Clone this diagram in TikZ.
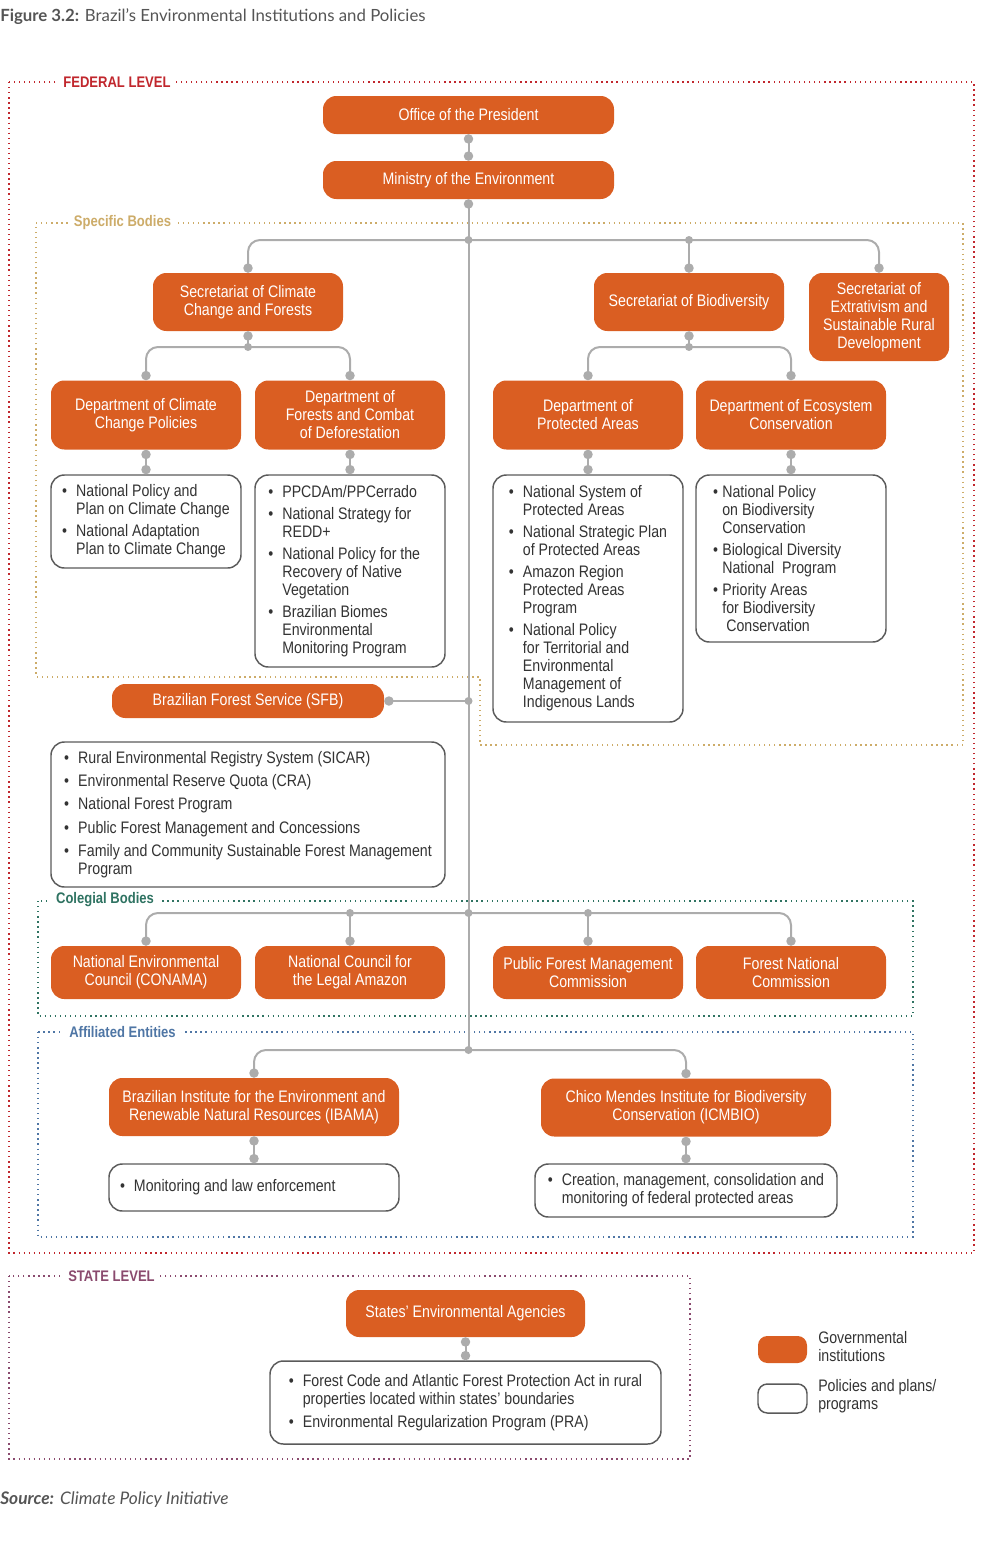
\documentclass[tikz,border=0pt]{standalone}
\usepackage{fontspec}
\setmainfont{Liberation Sans}[FakeStretch=0.85]
\newfontfamily\titlefont{Lato}
\usetikzlibrary{arrows.meta}

\definecolor{orng}{RGB}{218,94,34}
\definecolor{lk}{RGB}{172,172,172}
\definecolor{plgray}{RGB}{90,90,90}
\definecolor{txgray}{RGB}{51,51,51}
\definecolor{ttgray}{RGB}{85,85,85}
\definecolor{fedred}{RGB}{193,39,45}
\definecolor{spctan}{RGB}{205,172,105}
\definecolor{colteal}{RGB}{47,115,98}
\definecolor{affblue}{RGB}{79,118,165}
\definecolor{stpurp}{RGB}{138,74,110}

\newcommand{\bl}{\makebox[10.5pt][l]{\textbullet}}
\newcommand{\ind}{\hspace*{10.5pt}}
\newcommand{\blp}{\makebox[7pt][l]{\textbullet}}
\newcommand{\indp}{\hspace*{7pt}}
\newcommand{\nsp}{\spaceskip=0pt\xspaceskip=0pt\relax}

\tikzset{
  inst/.style={fill=orng, text=white, rounded corners=10pt, align=center, inner sep=2pt,
    font=\fontsize{12.5}{13.5}\selectfont},
  plan/.style={draw=plgray, line width=1.1pt, fill=white, rounded corners=10pt, align=left,
    text=txgray, inner sep=2pt, font=\fontsize{12.5}{13.5}\selectfont},
  link/.style={draw=lk, line width=1.5pt},
  jd/.tip={Circle[length=7pt]},
  frame/.style={line width=1pt, dash pattern=on 1pt off 2.8pt},
  lvl/.style={fill=white, inner xsep=4pt, inner ysep=1pt, font=\fontsize{11.5}{13}\selectfont\bfseries},
}

\begin{document}
\begin{tikzpicture}[x=0.75pt,y=0.75pt,yscale=-1,xscale=1]
\useasboundingbox (0,0) rectangle (990,1552);

% title
\node[anchor=west, inner sep=0pt, text=ttgray, font=\titlefont\fontsize{12.6}{15}\selectfont] (title) at (0,17)
  {\textbf{Figure 3.2:} Brazil’s Environmental Institutions and Policies};

% frames
\draw[frame, fedred] (9,82) rectangle (974,1253);
\draw[frame, spctan] (36,223) -- (963,223) -- (963,745) -- (480,745) -- (480,677) -- (36,677) -- cycle;
\draw[frame, colteal] (38,901) rectangle (913,1016);
\draw[frame, affblue] (38,1032) rectangle (913,1237);
\draw[frame, stpurp] (9,1276) rectangle (690,1459);

\node[lvl, text=fedred] (lfed) at (117,82) {FEDERAL LEVEL};
\node[lvl, text=spctan] (lspc) at (122.5,223) {Specific Bodies};
\node[lvl, text=colteal] (lcol) at (105,900) {Colegial Bodies};
\node[lvl, text=affblue] (laff) at (122.5,1032) {Affiliated Entities};
\node[lvl, text=stpurp] (lsta) at (111.5,1276) {STATE LEVEL};

% institutions
\node[inst, minimum width=218.25pt, minimum height=28.5pt] (pres) at (468.5,115) {Office of the President};
\node[inst, minimum width=218.25pt, minimum height=28.5pt] (mma) at (468.5,180) {Ministry of the Environment};

\node[inst, minimum width=142.5pt, minimum height=43.5pt] (scf) at (248,302) {Secretariat of Climate\\Change and Forests};
\node[inst, minimum width=142.5pt, minimum height=43.5pt] (sbd) at (689,302) {Secretariat of Biodiversity};
\node[inst, minimum width=105pt, minimum height=66pt] (sre) at (879,317) {Secretariat of\\Extrativism and\\Sustainable Rural\\Development};

\node[inst, minimum width=142.5pt, minimum height=51.75pt] (dcc) at (146,415) {Department of Climate\\Change Policies};
\node[inst, minimum width=142.5pt, minimum height=51.75pt] (dfc) at (350,415) {Department of\\Forests and Combat\\of Deforestation};
\node[inst, minimum width=142.5pt, minimum height=51.75pt] (dpa) at (588,415) {Department of\\Protected Areas};
\node[inst, minimum width=142.5pt, minimum height=51.75pt] (dec) at (791,415) {Department of Ecosystem\\Conservation};

% policies and plans
\node[plan, minimum width=142.5pt, minimum height=69.75pt] (pcc) at (146,521.5)
  {\bl National Policy and\\\ind Plan on Climate Change\\[3pt]
   \bl National Adaptation\\\ind Plan to Climate Change};
\node[plan, inner xsep=10pt, text width=122.5pt, minimum height=144pt] (pfc) at (350,571)
  {\nsp\bl PPCDAm/PPCerrado\\[3pt]
   \bl National Strategy for\\\ind REDD+\\[3pt]
   \bl National Policy for the\\\ind Recovery of Native\\\ind Vegetation\\[3pt]
   \bl Brazilian Biomes\\\ind Environmental\\\ind Monitoring Program};
\node[plan, minimum width=142.5pt, minimum height=185.25pt] (ppa) at (588,598.5)
  {\bl National System of\\\ind Protected Areas\\[3pt]
   \bl National Strategic Plan\\\ind of Protected Areas\\[3pt]
   \bl Amazon Region\\\ind Protected Areas\\\ind Program\\[3pt]
   \bl National Policy\\\ind for Territorial and\\\ind Environmental\\\ind Management of\\\ind Indigenous Lands};
\node[plan, inner xsep=12.75pt, text width=117pt, minimum height=125.25pt] (pec) at (791,558.5)
  {\nsp\blp National Policy\\\indp on Biodiversity\\\indp Conservation\\[3pt]
   \blp Biological Diversity\\\indp National~ Program\\[3pt]
   \blp Priority Areas\\\indp for Biodiversity\\\indp\hspace*{3pt}Conservation};

\node[inst, minimum width=204pt, minimum height=25.5pt] (sfb) at (248,701) {Brazilian Forest Service (SFB)};
\node[plan, minimum width=295.5pt, minimum height=108.75pt] (psfb) at (248,814.5)
  {\bl Rural Environmental Registry System (SICAR)\\[4pt]
   \bl Environmental Reserve Quota (CRA)\\[4pt]
   \bl National Forest Program\\[4pt]
   \bl Public Forest Management and Concessions\\[4pt]
   \bl Family and Community Sustainable Forest Management\\\ind Program};

% colegial bodies
\node[inst, minimum width=142.5pt, minimum height=39.75pt] (conama) at (146,972.5) {National Environmental\\Council (CONAMA)};
\node[inst, minimum width=142.5pt, minimum height=39.75pt] (cla) at (350,972.5) {National Council for\\the Legal Amazon};
\node[inst, minimum width=142.5pt, minimum height=39.75pt] (pfm) at (588,972.5) {Public Forest Management\\Commission};
\node[inst, minimum width=142.5pt, minimum height=39.75pt] (fnc) at (791,972.5) {Forest National\\Commission};

% affiliated entities
\node[inst, minimum width=217.5pt, minimum height=43.5pt] (ibama) at (254,1107) {Brazilian Institute for the Environment and\\Renewable Natural Resources (IBAMA)};
\node[inst, minimum width=217.5pt, minimum height=43.5pt] (icmbio) at (686,1107.5) {Chico Mendes Institute for Biodiversity\\Conservation (ICMBIO)};
\node[plan, inner xsep=8.25pt, text width=201pt, minimum height=35.25pt] (pibama) at (254,1187.5) {\nsp\bl Monitoring and law enforcement};
\node[plan, minimum width=226.5pt, minimum height=39.75pt] (picmbio) at (686,1190.5)
  {\bl Creation, management, consolidation and\\\ind monitoring of federal protected areas};

% state level
\node[inst, minimum width=179.25pt, minimum height=35.25pt] (sea) at (465.5,1313.5) {States’ Environmental Agencies};
\node[plan, minimum width=293.25pt, minimum height=62.25pt] (psea) at (465.5,1402.5)
  {\bl Forest Code and Atlantic Forest Protection Act in rural\\\ind properties located within states’ boundaries\\[4pt]
   \bl Environmental Regularization Program (PRA)};

% legend
\node[inst, minimum width=36.75pt, minimum height=20.25pt, rounded corners=7pt] (lgi) at (782.5,1349.5) {};
\node[plan, minimum width=36.75pt, minimum height=21.75pt, rounded corners=7pt] (lgp) at (782.5,1398.5) {};
\node[anchor=west, align=left, inner sep=0pt, text=txgray, font=\fontsize{12.5}{13.5}\selectfont] (lgit) at (818,1347) {Governmental\\institutions};
\node[anchor=west, align=left, inner sep=0pt, text=txgray, font=\fontsize{12.5}{13.5}\selectfont] (lgpt) at (818,1396.5) {Policies and plans/\\programs};

% source
\node[anchor=west, inner sep=0pt, text=ttgray, font=\titlefont\fontsize{13}{15}\selectfont] (src) at (0,1500)
  {\textbf{\textit{Source:}} \textit{Climate Policy Initiative}};

% junctions
\coordinate (jsec) at (468.5,240);
\coordinate (jsb) at (689,240);
\coordinate (jscf) at (248,347);
\coordinate (jsbd) at (689,347);
\coordinate (jsfb) at (468.5,701);
\coordinate (jcol) at (468.5,913);
\coordinate (jcn) at (350,913);
\coordinate (jpf) at (588,913);
\coordinate (jaff) at (468.5,1050);

% connectors
\draw[link, jd-jd] (pres) -- (mma);
\draw[link, jd-] (mma.south) -- (jaff);
\draw[link, rounded corners=9pt, jd-jd] (scf.north) |- (jsec) -| (sre.north);
\draw[link, -jd] (jsb) -- (sbd.north);
\draw[link, jd-] (scf.south) -- (jscf);
\draw[link, rounded corners=9pt, jd-jd] (dcc.north) |- (jscf) -| (dfc.north);
\draw[link, jd-] (sbd.south) -- (jsbd);
\draw[link, rounded corners=9pt, jd-jd] (dpa.north) |- (jsbd) -| (dec.north);
\draw[link, jd-jd] (dcc) -- (pcc);
\draw[link, jd-jd] (dfc) -- (pfc);
\draw[link, jd-jd] (dpa) -- (ppa);
\draw[link, jd-jd] (dec) -- (pec);
\draw[link, jd-] (sfb.east) -- (jsfb);
\draw[link, rounded corners=9pt, jd-jd] (conama.north) |- (jcol) -| (fnc.north);
\draw[link, -jd] (jcn) -- (cla.north);
\draw[link, -jd] (jpf) -- (pfm.north);
\draw[link, rounded corners=9pt, jd-jd] (ibama.north) |- (jaff) -| (icmbio.north);
\draw[link, jd-jd] (ibama) -- (pibama);
\draw[link, jd-jd] (icmbio) -- (picmbio);
\draw[link, jd-jd] (sea) -- (psea);
\foreach \j in {jsec,jsb,jscf,jsbd,jsfb,jcol,jcn,jpf,jaff}
  \fill[lk] (\j) circle (3pt);

\end{tikzpicture}
\end{document}
